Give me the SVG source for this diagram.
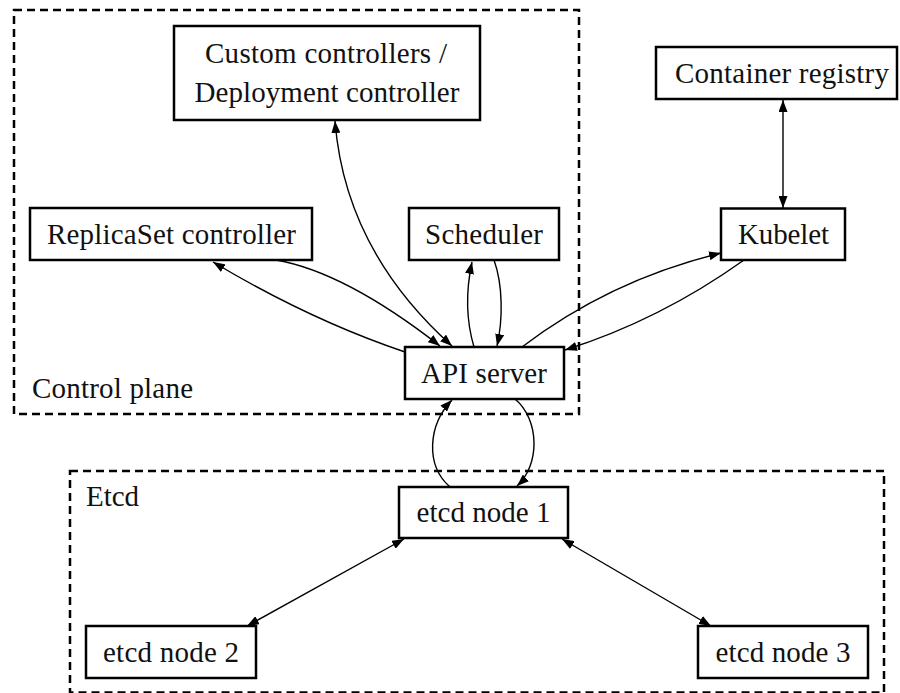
<svg xmlns="http://www.w3.org/2000/svg" width="900" height="693" viewBox="0 0 900 693">
<style>
  .node { fill: #fff; stroke: #000; stroke-width: 2.5; }
  .group { fill: none; stroke: #000; stroke-width: 2.5; stroke-dasharray: 8 5; }
  .lbl { font-family: "Liberation Serif", "Times New Roman", serif; font-size: 29px; fill: #111; }
  .mid { text-anchor: middle; }
  .edge { fill: none; stroke: #000; stroke-width: 1.4; }
</style>
<defs>
  <marker id="arr" viewBox="0 0 12 9" refX="12" refY="4.5" markerWidth="12" markerHeight="9" markerUnits="userSpaceOnUse" orient="auto-start-reverse">
    <path d="M0,0 L12,4.5 L0,9 Z" fill="#000"/>
  </marker>
</defs>
<rect width="900" height="693" fill="#fff"/>

<g id="control-plane">
  <rect class="group" x="14" y="10" width="565" height="404"/>
  <text class="lbl" x="32" y="398" textLength="161">Control plane</text>
</g>
<g id="etcd-cluster">
  <rect class="group" x="70" y="471" width="814" height="221.5"/>
  <text class="lbl" x="86" y="506" textLength="53">Etcd</text>
</g>

<g id="connectors">
  <path class="edge" d="M335,121 Q345,250 452,346" marker-start="url(#arr)" marker-end="url(#arr)"/>
  <path class="edge" d="M405,352 Q310,320 213,262" marker-end="url(#arr)"/>
  <path class="edge" d="M276,260 Q345,272 440,346" marker-end="url(#arr)"/>
  <path class="edge" d="M474,347 C466,320 466,290 472,262" marker-end="url(#arr)"/>
  <path class="edge" d="M494,260 C503,285 503,320 497,346" marker-end="url(#arr)"/>
  <path class="edge" d="M522,347 Q610,280 721,253" marker-end="url(#arr)"/>
  <path class="edge" d="M744,260 Q660,320 565,350" marker-end="url(#arr)"/>
  <path class="edge" d="M783,100 L783,208" marker-start="url(#arr)" marker-end="url(#arr)"/>
  <path class="edge" d="M450,487 C425,465 428,425 452,400" marker-end="url(#arr)"/>
  <path class="edge" d="M515,399 C540,420 540,465 517,486" marker-end="url(#arr)"/>
  <path class="edge" d="M404,539 L247,626" marker-start="url(#arr)" marker-end="url(#arr)"/>
  <path class="edge" d="M562,539 L711,626" marker-start="url(#arr)" marker-end="url(#arr)"/>
</g>

<g id="custom-controllers">
  <rect class="node" x="174" y="26" width="306" height="94"/>
  <text class="lbl mid" x="326" y="63" textLength="242">Custom controllers /</text>
  <text class="lbl mid" x="327" y="102" textLength="265">Deployment controller</text>
</g>
<g id="replicaset-controller">
  <rect class="node" x="30" y="208" width="282" height="52"/>
  <text class="lbl mid" x="171.5" y="244" textLength="249">ReplicaSet controller</text>
</g>
<g id="scheduler">
  <rect class="node" x="409" y="208" width="150" height="52"/>
  <text class="lbl mid" x="484" y="244" textLength="118">Scheduler</text>
</g>
<g id="container-registry">
  <rect class="node" x="656" y="47" width="241" height="52"/>
  <text class="lbl mid" x="782" y="83" textLength="214">Container registry</text>
</g>
<g id="kubelet">
  <rect class="node" x="721" y="208.5" width="124" height="51.5"/>
  <text class="lbl mid" x="783.5" y="244" textLength="91">Kubelet</text>
</g>
<g id="api-server">
  <rect class="node" x="405" y="347" width="159" height="52"/>
  <text class="lbl mid" x="484" y="383" textLength="126">API server</text>
</g>
<g id="etcd-node-1">
  <rect class="node" x="399" y="487" width="169" height="51"/>
  <text class="lbl mid" x="483.5" y="522" textLength="134">etcd node 1</text>
</g>
<g id="etcd-node-2">
  <rect class="node" x="86" y="626" width="170" height="52"/>
  <text class="lbl mid" x="171" y="662" textLength="136">etcd node 2</text>
</g>
<g id="etcd-node-3">
  <rect class="node" x="698" y="626" width="170" height="52"/>
  <text class="lbl mid" x="783" y="662" textLength="135">etcd node 3</text>
</g>
</svg>
